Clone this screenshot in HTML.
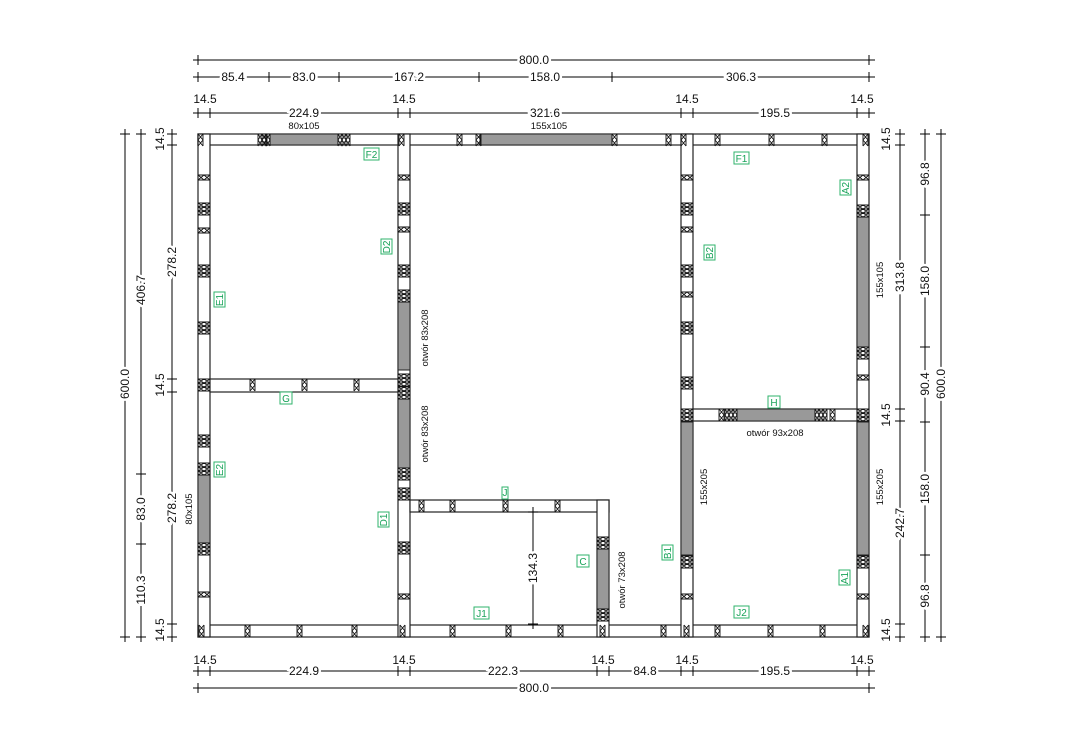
<!DOCTYPE html>
<html><head><meta charset="utf-8">
<style>
html,body{margin:0;padding:0;background:#fff;}
svg{display:block;}
text{font-family:"Liberation Sans",sans-serif;}
.d{font-size:12px;fill:#111;}
.s{font-size:9.5px;fill:#111;}
.bg{paint-order:stroke;stroke:#fff;stroke-width:5px;}
.tag{font-size:10px;fill:#1aa35a;}
</style></head>
<body>
<svg width="1074" height="751" viewBox="0 0 1074 751" xmlns="http://www.w3.org/2000/svg">
<defs>
<g id="hs" fill="none" stroke="#111" stroke-width="0.9"><path d="M0 0V12M5 0V12M0 0L5 6L0 12M5 0L0 6L5 12"/></g>
<g id="ht" fill="none" stroke="#111" stroke-width="0.9"><path d="M0 0V12M4 0V12M8 0V12M12 0V12M0 0L4 6L0 12M4 0L0 6L4 12M4 0L8 6L4 12M8 0L4 6L8 12M8 0L12 6L8 12M12 0L8 6L12 12"/></g>
<g id="vs" fill="none" stroke="#111" stroke-width="0.9"><path d="M0 0H12M0 5H12M0 0L6 5L12 0M0 5L6 0L12 5"/></g>
<g id="vt" fill="none" stroke="#111" stroke-width="0.9"><path d="M0 0H12M0 4H12M0 8H12M0 12H12M0 0L6 4L12 0M0 4L6 0L12 4M0 4L6 8L12 4M0 8L6 4L12 8M0 8L6 12L12 8M0 12L6 8L12 12"/></g>
<g id="tk" stroke="#000" stroke-width="1"><path d="M-5 0H5M0 -5V5"/></g>
</defs>

<g fill="#fff" stroke="#222" stroke-width="1.2">
<rect x="198" y="134" width="671" height="11"/>
<rect x="198" y="625" width="671" height="12"/>
<rect x="198" y="134" width="12" height="503"/>
<rect x="857" y="134" width="12" height="503"/>
<rect x="398" y="134" width="12" height="503"/>
<rect x="681" y="134" width="12" height="503"/>
<rect x="210" y="379" width="188" height="13"/>
<rect x="693" y="409" width="164" height="12"/>
<rect x="410" y="500" width="199" height="12"/>
<rect x="597" y="500" width="12" height="137"/>
</g>
<g fill="#999" stroke="#222" stroke-width="1">
<rect x="270" y="134" width="68" height="11"/>
<rect x="480" y="134" width="132" height="11"/>
<rect x="198" y="475" width="12" height="68"/>
<rect x="398" y="302" width="12" height="68"/>
<rect x="398" y="399" width="12" height="69"/>
<rect x="857" y="217" width="12" height="130"/>
<rect x="857" y="422" width="12" height="133"/>
<rect x="681" y="422" width="12" height="133"/>
<rect x="737" y="409" width="78" height="12"/>
<rect x="597" y="549" width="12" height="60"/>
</g>

<g>
<use href="#hs" x="198" y="134"/><use href="#hs" x="262" y="134"/><use href="#ht" x="258" y="134"/><use href="#ht" x="338" y="134"/>
<use href="#hs" x="399" y="134"/><use href="#hs" x="457" y="134"/><use href="#hs" x="476" y="134"/><use href="#hs" x="612" y="134"/>
<use href="#hs" x="666" y="134"/><use href="#hs" x="681" y="134"/><use href="#hs" x="715" y="134"/><use href="#hs" x="769" y="134"/>
<use href="#hs" x="822" y="134"/><use href="#hs" x="863" y="134"/>
<use href="#hs" x="199" y="625"/><use href="#hs" x="245" y="625"/><use href="#hs" x="297" y="625"/><use href="#hs" x="352" y="625"/>
<use href="#hs" x="400" y="625"/><use href="#hs" x="450" y="625"/><use href="#hs" x="506" y="625"/><use href="#hs" x="558" y="625"/>
<use href="#hs" x="600" y="625"/><use href="#hs" x="661" y="625"/><use href="#hs" x="684" y="625"/><use href="#hs" x="715" y="625"/>
<use href="#hs" x="768" y="625"/><use href="#hs" x="820" y="625"/><use href="#hs" x="863" y="625"/>
<use href="#hs" x="250" y="379"/><use href="#hs" x="302" y="379"/><use href="#hs" x="354" y="379"/>
<use href="#hs" x="419" y="500"/><use href="#hs" x="450" y="500"/><use href="#hs" x="503" y="500"/><use href="#hs" x="555" y="500"/>
<use href="#hs" x="719" y="409"/><use href="#ht" x="725" y="409"/><use href="#ht" x="815" y="409"/><use href="#hs" x="830" y="409"/>
</g>
<g>
<use href="#vs" x="198" y="175"/><use href="#vt" x="198" y="203"/><use href="#vs" x="198" y="228"/><use href="#vt" x="198" y="265"/><use href="#vt" x="198" y="322"/>
<use href="#vt" x="198" y="379"/><use href="#vt" x="198" y="435"/><use href="#vt" x="198" y="463"/><use href="#vt" x="198" y="543"/><use href="#vs" x="198" y="592"/>
<use href="#vs" x="398" y="175"/><use href="#vt" x="398" y="203"/><use href="#vs" x="398" y="227"/><use href="#vt" x="398" y="265"/><use href="#vt" x="398" y="290"/>
<use href="#vt" x="398" y="374"/><use href="#vt" x="398" y="387"/><use href="#vt" x="398" y="468"/><use href="#vt" x="398" y="488"/><use href="#vt" x="398" y="542"/><use href="#vs" x="398" y="594"/>
<use href="#vt" x="597" y="537"/><use href="#vt" x="597" y="609"/>
<use href="#vs" x="681" y="175"/><use href="#vt" x="681" y="203"/><use href="#vs" x="681" y="227"/><use href="#vt" x="681" y="265"/><use href="#vs" x="681" y="292"/>
<use href="#vt" x="681" y="322"/><use href="#vt" x="681" y="377"/><use href="#vt" x="681" y="409"/><use href="#vt" x="681" y="556"/><use href="#vs" x="681" y="594"/>
<use href="#vs" x="857" y="175"/><use href="#vt" x="857" y="205"/><use href="#vt" x="857" y="347"/><use href="#vs" x="857" y="375"/>
<use href="#vt" x="857" y="409"/><use href="#vt" x="857" y="556"/><use href="#vs" x="857" y="594"/>
</g>

<g stroke="#000" stroke-width="1" fill="none">
<path d="M193 60H875M193 77H875M193 113H875M193 671H875M193 688H875"/>
<path d="M125 129V642M141 129V642M172 129V642M900 129V642M925 129V642M941 129V642"/>
<path d="M533 512V624"/>
</g>
<g>
<use href="#tk" x="198" y="60"/><use href="#tk" x="869" y="60"/>
<use href="#tk" x="198" y="77"/><use href="#tk" x="269" y="77"/><use href="#tk" x="339" y="77"/><use href="#tk" x="479" y="77"/><use href="#tk" x="612" y="77"/><use href="#tk" x="869" y="77"/>
<use href="#tk" x="198" y="113"/><use href="#tk" x="210" y="113"/><use href="#tk" x="398" y="113"/><use href="#tk" x="410" y="113"/><use href="#tk" x="681" y="113"/><use href="#tk" x="693" y="113"/><use href="#tk" x="857" y="113"/><use href="#tk" x="869" y="113"/>
<use href="#tk" x="198" y="671"/><use href="#tk" x="210" y="671"/><use href="#tk" x="398" y="671"/><use href="#tk" x="410" y="671"/><use href="#tk" x="597" y="671"/><use href="#tk" x="609" y="671"/><use href="#tk" x="681" y="671"/><use href="#tk" x="693" y="671"/><use href="#tk" x="857" y="671"/><use href="#tk" x="869" y="671"/>
<use href="#tk" x="198" y="688"/><use href="#tk" x="869" y="688"/>
<use href="#tk" x="125" y="134"/><use href="#tk" x="125" y="637"/>
<use href="#tk" x="141" y="134"/><use href="#tk" x="141" y="474"/><use href="#tk" x="141" y="544"/><use href="#tk" x="141" y="637"/>
<use href="#tk" x="172" y="134"/><use href="#tk" x="172" y="145"/><use href="#tk" x="172" y="379"/><use href="#tk" x="172" y="392"/><use href="#tk" x="172" y="624"/><use href="#tk" x="172" y="637"/>
<use href="#tk" x="900" y="134"/><use href="#tk" x="900" y="145"/><use href="#tk" x="900" y="409"/><use href="#tk" x="900" y="421"/><use href="#tk" x="900" y="624"/><use href="#tk" x="900" y="637"/>
<use href="#tk" x="925" y="134"/><use href="#tk" x="925" y="215"/><use href="#tk" x="925" y="347"/><use href="#tk" x="925" y="422"/><use href="#tk" x="925" y="555"/><use href="#tk" x="925" y="637"/>
<use href="#tk" x="941" y="134"/><use href="#tk" x="941" y="637"/>
<use href="#tk" x="533" y="512"/><use href="#tk" x="533" y="624"/>
</g>

<g class="d bg" text-anchor="middle">
<text x="534" y="64">800.0</text>
<text x="233" y="81">85.4</text><text x="304" y="81">83.0</text><text x="409" y="81">167.2</text><text x="545" y="81">158.0</text><text x="741" y="81">306.3</text>
<text x="304" y="117">224.9</text><text x="545" y="117">321.6</text><text x="775" y="117">195.5</text>
<text x="304" y="675">224.9</text><text x="503" y="675">222.3</text><text x="645" y="675">84.8</text><text x="775" y="675">195.5</text>
<text x="534" y="692">800.0</text>
</g>
<g class="d" text-anchor="middle">
<text x="205" y="103">14.5</text><text x="404" y="103">14.5</text><text x="687" y="103">14.5</text><text x="862" y="103">14.5</text>
<text x="205" y="664">14.5</text><text x="404" y="664">14.5</text><text x="603" y="664">14.5</text><text x="687" y="664">14.5</text><text x="862" y="664">14.5</text>
</g>
<g class="d bg" text-anchor="middle">
<text transform="translate(129,384) rotate(-90)">600.0</text>
<text transform="translate(145,290) rotate(-90)">406.7</text>
<text transform="translate(145,509) rotate(-90)">83.0</text>
<text transform="translate(145,590) rotate(-90)">110.3</text>
<text transform="translate(176,262) rotate(-90)">278.2</text>
<text transform="translate(176,508) rotate(-90)">278.2</text>
<text transform="translate(904,277) rotate(-90)">313.8</text>
<text transform="translate(904,523) rotate(-90)">242.7</text>
<text transform="translate(929,174) rotate(-90)">96.8</text>
<text transform="translate(929,281) rotate(-90)">158.0</text>
<text transform="translate(929,384) rotate(-90)">90.4</text>
<text transform="translate(929,489) rotate(-90)">158.0</text>
<text transform="translate(929,596) rotate(-90)">96.8</text>
<text transform="translate(945,384) rotate(-90)">600.0</text>
<text transform="translate(537,568) rotate(-90)">134.3</text>
</g>
<g class="d" text-anchor="middle">
<text transform="translate(164,139) rotate(-90)">14.5</text>
<text transform="translate(164,385) rotate(-90)">14.5</text>
<text transform="translate(164,630) rotate(-90)">14.5</text>
<text transform="translate(890,139) rotate(-90)">14.5</text>
<text transform="translate(890,415) rotate(-90)">14.5</text>
<text transform="translate(890,630) rotate(-90)">14.5</text>
</g>

<g class="s" text-anchor="middle">
<text x="304" y="129">80x105</text>
<text x="549" y="129">155x105</text>
<text x="775" y="436">otwór 93x208</text>
<text transform="translate(192,509) rotate(-90)">80x105</text>
<text transform="translate(428,338) rotate(-90)">otwór 83x208</text>
<text transform="translate(428,434) rotate(-90)">otwór 83x208</text>
<text transform="translate(625,580) rotate(-90)">otwór 73x208</text>
<text transform="translate(707,487) rotate(-90)">155x205</text>
<text transform="translate(883,487) rotate(-90)">155x205</text>
<text transform="translate(883,280) rotate(-90)">155x105</text>
</g>

<g fill="#fff" stroke="#2fb36b" stroke-width="1">
<rect x="364" y="148" width="15" height="12"/><rect x="734" y="152" width="15" height="12"/>
<rect x="280" y="392" width="12" height="12"/><rect x="768" y="396" width="12" height="12"/>
<rect x="577" y="555" width="12" height="12"/><rect x="474" y="607" width="15" height="12"/><rect x="734" y="606" width="15" height="12"/>
<rect x="502" y="487" width="6" height="12"/>
<rect x="840" y="180" width="11" height="15"/><rect x="381" y="239" width="11" height="15"/><rect x="704" y="245" width="11" height="15"/>
<rect x="214" y="292" width="11" height="15"/><rect x="214" y="462" width="11" height="15"/><rect x="378" y="512" width="11" height="15"/>
<rect x="662" y="545" width="11" height="15"/><rect x="839" y="570" width="11" height="15"/>
</g>
<g class="tag" text-anchor="middle">
<text x="371.5" y="158">F2</text><text x="741.5" y="162">F1</text>
<text x="286" y="402">G</text><text x="774" y="406">H</text>
<text x="583" y="565">C</text><text x="481.5" y="617">J1</text><text x="741.5" y="616">J2</text>
<text x="505" y="496">J</text>
<text transform="translate(849,188) rotate(-90)">A2</text>
<text transform="translate(390,247) rotate(-90)">D2</text>
<text transform="translate(713,253) rotate(-90)">B2</text>
<text transform="translate(223,300) rotate(-90)">E1</text>
<text transform="translate(223,470) rotate(-90)">E2</text>
<text transform="translate(387,520) rotate(-90)">D1</text>
<text transform="translate(671,553) rotate(-90)">B1</text>
<text transform="translate(848,578) rotate(-90)">A1</text>
</g>
</svg>
</body></html>
